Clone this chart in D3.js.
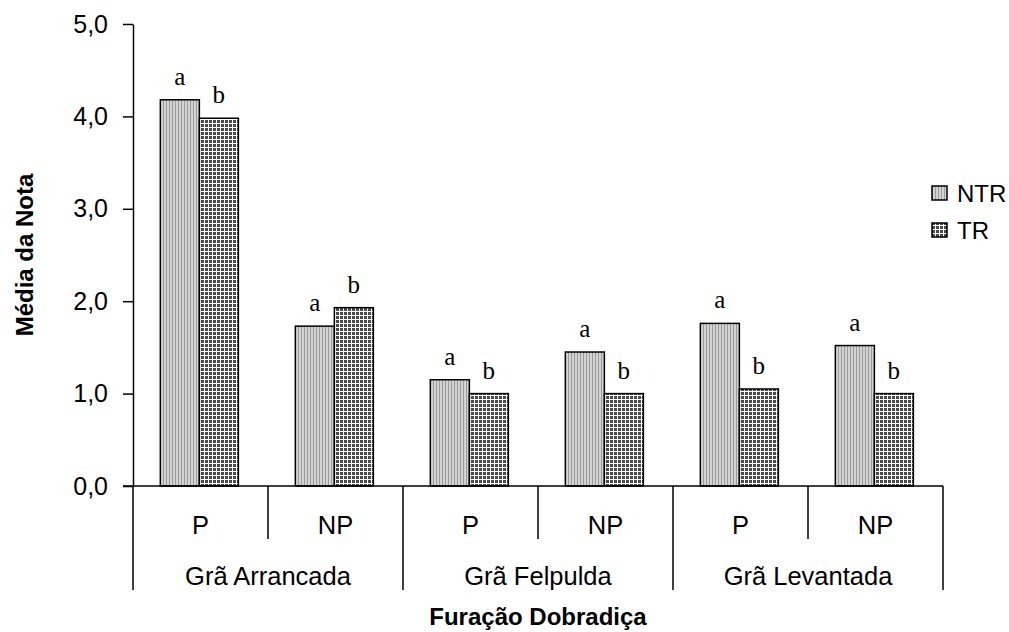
<!DOCTYPE html>
<html>
<head>
<meta charset="utf-8">
<script src="https://cdn.jsdelivr.net/npm/d3@7"></script>
<style>
  body { margin: 0; background: #fff; }
  text { font-family: "Liberation Sans", Arial, sans-serif; }
</style>
</head>
<body>
<div id="chart"></div>
<script>
// DATA
const groups = ["Grã Arrancada", "Grã Felpulda", "Grã Levantada"];
const subgroups = ["P", "NP"];
const series = ["NTR", "TR"];
const ntrValues = [4.18, 1.73, 1.15, 1.45, 1.76, 1.52];
const trValues = [3.98, 1.93, 1.0, 1.0, 1.05, 1.0];
const ntrLetters = ["a", "a", "a", "a", "a", "a"];
const trLetters = ["b", "b", "b", "b", "b", "b"];
const yTicks = [0, 1, 2, 3, 4, 5];

// build rows: one per group/subgroup pair
const rows = [];
groups.forEach((g, gi) => {
  subgroups.forEach((s, si) => {
    const i = gi * subgroups.length + si;
    rows.push({ key: g + "|" + s, group: g, sub: s,
      NTR: ntrValues[i], TR: trValues[i],
      NTRl: ntrLetters[i], TRl: trLetters[i] });
  });
});

// SVG
const W = 1009, H = 632;
const margin = { top: 24, left: 133, right: 66, bottom: 146 };
const width = W - margin.left - margin.right;
const height = H - margin.top - margin.bottom;

const svg = d3.select("#chart").append("svg")
  .attr("width", W).attr("height", H);

// patterns
const defs = svg.append("defs");
const p1 = defs.append("pattern").attr("id", "pNTR")
  .attr("patternUnits", "userSpaceOnUse").attr("width", 3).attr("height", 3);
p1.append("rect").attr("width", 3).attr("height", 3).attr("fill", "#d4d4d4");
p1.append("rect").attr("x", 0).attr("width", 1).attr("height", 3).attr("fill", "#9a9a9a");

const p2 = defs.append("pattern").attr("id", "pTR")
  .attr("patternUnits", "userSpaceOnUse").attr("width", 4).attr("height", 4);
p2.append("rect").attr("width", 4).attr("height", 4).attr("fill", "#4a4a4a");
p2.append("rect").attr("x", 3).attr("width", 1).attr("height", 4).attr("fill", "#fff");
p2.append("rect").attr("y", 3).attr("width", 4).attr("height", 1).attr("fill", "#fff");

const fills = { NTR: "url(#pNTR)", TR: "url(#pTR)" };

const g = svg.append("g").attr("transform", `translate(${margin.left},${margin.top})`);

// SCALES
const x0 = d3.scaleBand().domain(rows.map(d => d.key)).range([0, width]).padding(0);
const xg = d3.scaleBand().domain(groups).range([0, width]).padding(0);
const x1 = d3.scaleBand().domain(series).range([0, x0.bandwidth()])
  .paddingInner(0).paddingOuter(0.73).align(0.48);
const y = d3.scaleLinear().domain([0, 5]).range([height, 0]);

// Y AXIS
const yAxis = g.append("g")
  .call(d3.axisLeft(y).tickValues(yTicks).tickSize(10).tickSizeOuter(0).tickPadding(15)
    .tickFormat(d => d3.format(".1f")(d).replace(".", ",")));
yAxis.select(".domain").attr("stroke", "#000").attr("stroke-width", 1.5);
yAxis.selectAll(".tick line").attr("stroke", "#000").attr("stroke-width", 1.5);
yAxis.selectAll(".tick text").attr("font-size", 25).attr("fill", "#000")
  .attr("font-family", "Liberation Sans, Arial, sans-serif");

// BARS
const cat = g.selectAll(".cat").data(rows).enter().append("g")
  .attr("transform", d => `translate(${x0(d.key)},0)`);

cat.selectAll("rect").data(d => series.map(s => ({ s, v: d[s] })))
  .enter().append("rect")
  .attr("x", d => x1(d.s))
  .attr("y", d => y(d.v))
  .attr("width", x1.bandwidth())
  .attr("height", d => y(0) - y(d.v))
  .attr("fill", d => fills[d.s])
  .attr("stroke", "#000").attr("stroke-width", 1.5);

cat.selectAll(".lbl").data(d => series.map(s => ({ s, v: d[s], l: d[s + "l"] })))
  .enter().append("text")
  .attr("x", d => x1(d.s) + x1.bandwidth() / 2)
  .attr("y", d => y(d.v) - 15)
  .attr("text-anchor", "middle")
  .style("font-family", "Liberation Serif, Times New Roman, serif")
  .style("font-size", "25px")
  .text(d => d.l);

// X AXIS (two level)
g.append("line").attr("x1", -10).attr("x2", width).attr("y1", height).attr("y2", height)
  .attr("stroke", "#000").attr("stroke-width", 1.5);

// inner dividers
rows.forEach(d => {
  if (d.sub !== subgroups[0]) {
    g.append("line").attr("x1", x0(d.key)).attr("x2", x0(d.key))
      .attr("y1", height).attr("y2", height + 53)
      .attr("stroke", "#000").attr("stroke-width", 1.5);
  }
});
// group dividers
groups.concat([null]).forEach((gr, i) => {
  const xx = gr ? xg(gr) : width;
  g.append("line").attr("x1", xx).attr("x2", xx)
    .attr("y1", height).attr("y2", height + 104)
    .attr("stroke", "#000").attr("stroke-width", 1.5);
});

g.selectAll(".sublbl").data(rows).enter().append("text")
  .attr("x", d => x0(d.key) + x0.bandwidth() / 2)
  .attr("y", height + 48)
  .attr("text-anchor", "middle")
  .style("font-size", "25.5px")
  .text(d => d.sub);

g.selectAll(".grplbl").data(groups).enter().append("text")
  .attr("x", d => xg(d) + xg.bandwidth() / 2)
  .attr("y", height + 99)
  .attr("text-anchor", "middle")
  .style("font-size", "25.5px")
  .text(d => d);

// axis titles
svg.append("text")
  .attr("x", margin.left + width / 2)
  .attr("y", 625)
  .attr("text-anchor", "middle")
  .style("font-size", "24px").style("font-weight", "bold")
  .text("Furação Dobradiça");

svg.append("text")
  .attr("transform", `translate(33,${margin.top + height / 2}) rotate(-90)`)
  .attr("text-anchor", "middle")
  .style("font-size", "24px").style("font-weight", "bold")
  .text("Média da Nota");

// LEGEND
const legend = svg.selectAll(".legend").data(series).enter().append("g")
  .attr("transform", (d, i) => `translate(932,${193 + i * 37})`);
legend.append("rect")
  .attr("x", 0).attr("y", -7).attr("width", 15).attr("height", 14)
  .attr("fill", d => fills[d]).attr("stroke", "#000").attr("stroke-width", 1.5);
legend.append("text")
  .attr("x", 25).attr("y", 8.5)
  .style("font-size", "24px")
  .text(d => d);
</script>
</body>
</html>
